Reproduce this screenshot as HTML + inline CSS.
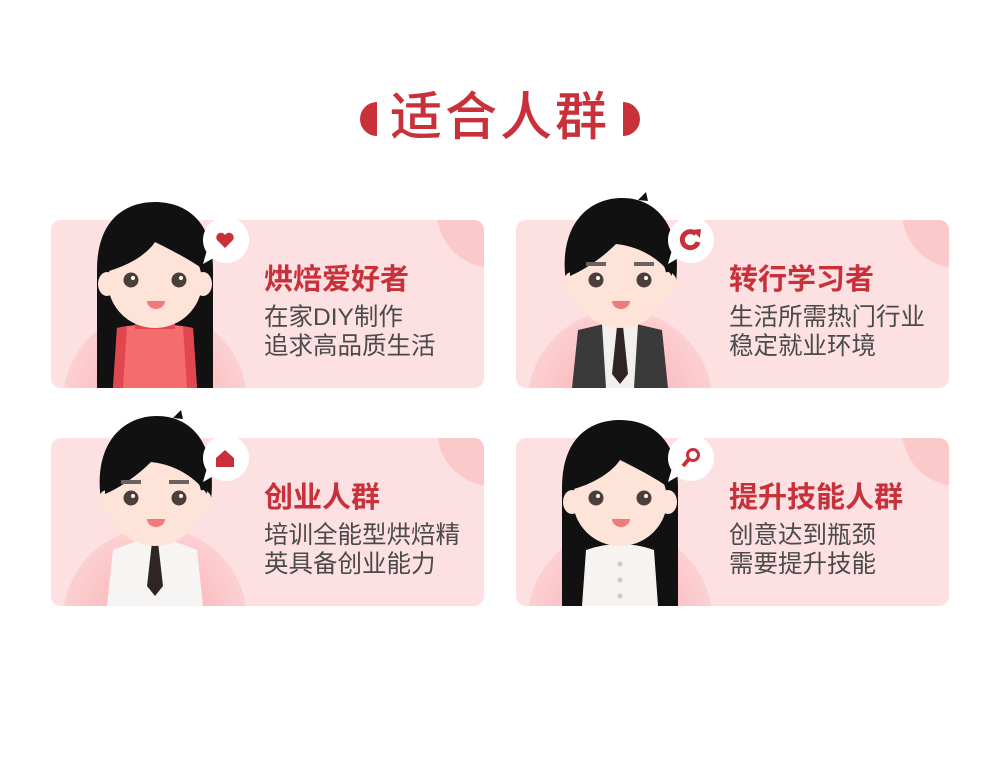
<!DOCTYPE html>
<html><head><meta charset="utf-8">
<style>
body{margin:0;width:1000px;height:782px;background:#fff;font-family:"Liberation Sans","Noto Sans CJK SC",sans-serif;position:relative;overflow:hidden}
.title{position:absolute;left:0;width:1000px;top:86px;text-align:center;font-size:52px;color:#c8303a;font-weight:500;letter-spacing:3px;line-height:64px}
.cap{position:absolute;top:102px;width:18px;height:34px;background:#c8303a}
.capl{left:360px;border-radius:18px 0 0 18px;width:17px}
.capr{left:623px;border-radius:0 18px 18px 0;width:17px}
.card{position:absolute;width:433px;height:168px;border-radius:10px;background:#fde0e2;overflow:hidden}
.card svg.bg{position:absolute;left:0;top:0}
.h{position:absolute;font-size:29px;font-weight:bold;color:#c8303a;white-space:nowrap}
.d{position:absolute;font-size:24.5px;color:#4a4a4a;line-height:29px;white-space:nowrap}
</style></head><body>
<div class="cap capl"></div>
<div class="title">适合人群</div>
<div class="cap capr"></div>

<div id="cards"></div>
<script>
const cardsData=[
 {x:51,y:220,name:'baking-lover-card',t:'烘焙爱好者',l1:'在家DIY制作',l2:'追求高品质生活',g:'f',icon:'heart'},
 {x:516,y:220,name:'career-changer-card',t:'转行学习者',l1:'生活所需热门行业',l2:'稳定就业环境',g:'m',icon:'refresh'},
 {x:51,y:438,name:'entrepreneur-card',t:'创业人群',l1:'培训全能型烘焙精',l2:'英具备创业能力',g:'m2',icon:'home'},
 {x:516,y:438,name:'skill-upgrade-card',t:'提升技能人群',l1:'创意达到瓶颈',l2:'需要提升技能',g:'f2',icon:'search'}
];
function icon(k){
 if(k==='heart')return '<path d="M174 28 l-8 -8 a4.5 4.5 0 0 1 8 -5 a4.5 4.5 0 0 1 8 5 z" fill="#c8303a"/>';
 if(k==='refresh')return '<path d="M180 14 a8 8 0 1 0 2 8" fill="none" stroke="#c8303a" stroke-width="5"/><path d="M176 10 l9 -1 l-1 9 z" fill="#c8303a"/>';
 if(k==='home')return '<path d="M165 20 l9 -8 l9 8 v9 h-18 z" fill="#c8303a"/>';
 return '<circle cx="177" cy="17" r="5.5" fill="none" stroke="#c8303a" stroke-width="3"/><path d="M173 21 l-6 7" stroke="#c8303a" stroke-width="4"/>';
}
function figure(g){
 let s='';
 const female=g[0]==='f';
 if(female){
  s+='<path d="M46 168 V50 C46 -4 78 -18 104 -18 C130 -18 162 -4 162 50 V168 Z" fill="#111"/>';
 } else {
  s+='<path d="M50 62 C42 8 70 -22 106 -22 C142 -22 166 8 160 62 Z" fill="#111"/><path d="M122 -20 l8 -8 l2 9 z" fill="#111"/>';
 }
 if(g==='f'){
  s+='<path d="M62 168 L66 108 Q104 100 142 108 L146 168 Z" fill="#f56c6c"/><path d="M62 168 L66 108 L76 106 L72 168Z M146 168 L142 108 L132 106 L136 168Z" fill="#e0474f"/><rect x="84" y="100" width="40" height="9" fill="#e0474f"/>';
 } else if(g==='f2'){
  s+='<path d="M66 168 L70 112 Q104 100 138 112 L142 168 Z" fill="#f7f3f0"/><circle cx="104" cy="126" r="2.5" fill="#ccc"/><circle cx="104" cy="142" r="2.5" fill="#ccc"/><circle cx="104" cy="158" r="2.5" fill="#ccc"/>';
 } else if(g==='m'){
  s+='<path d="M56 168 L62 110 L88 104 L120 104 L146 110 L152 168 Z" fill="#3a3a3a"/><path d="M86 104 L122 104 L118 168 L90 168 Z" fill="#f2efec"/><path d="M101 106 h6 l5 48 l-8 10 l-8 -10 z" fill="#2f2623"/>';
 } else {
  s+='<path d="M56 168 L62 112 L88 102 L120 102 L146 112 L152 168 Z" fill="#f7f5f3"/><path d="M101 104 h6 l5 44 l-8 10 l-8 -10 z" fill="#2f2623"/>';
 }
 s+='<ellipse cx="56" cy="64" rx="9" ry="12" fill="#fde3d8"/><ellipse cx="152" cy="64" rx="9" ry="12" fill="#fde3d8"/>';
 s+='<ellipse cx="104" cy="62" rx="47" ry="46" fill="#fde3d8"/>';
 if(female) s+='<path d="M54 52 C60 20 80 10 104 10 C128 10 150 22 156 52 C140 40 120 30 104 22 C96 34 78 46 54 52 Z" fill="#111"/>';
 else s+='<path d="M54 56 C54 14 80 4 106 4 C132 4 156 14 156 56 C142 36 120 26 100 24 C88 36 72 48 54 56Z" fill="#111"/><rect x="70" y="42" width="20" height="4" fill="#6a6260"/><rect x="118" y="42" width="20" height="4" fill="#6a6260"/>';
 s+='<circle cx="80" cy="60" r="7.5" fill="#4a3f3a"/><circle cx="128" cy="60" r="7.5" fill="#4a3f3a"/><circle cx="82" cy="58" r="2" fill="#fff"/><circle cx="130" cy="58" r="2" fill="#fff"/>';
 s+='<path d="M96 81 h18 a9 8 0 0 1 -18 0z" fill="#f27a7a"/>';
 return s;
}
const host=document.getElementById('cards');
cardsData.forEach(c=>{
 const d=document.createElement('div');
 d.className='card';d.style.left=c.x+'px';d.style.top=c.y+'px';
 
 
 d.innerHTML='<svg class="bg" width="433" height="168"><defs><radialGradient id="rg'+c.x+c.y+'" cx="0.5" cy="0.5" r="0.5"><stop offset="0.55" stop-color="#fbbfc2"/><stop offset="1" stop-color="#fcd0d2"/></radialGradient></defs><circle cx="104" cy="182" r="92" fill="url(#rg'+c.x+c.y+')"/><circle cx="442" cy="-8" r="56" fill="#fcc9cb"/></svg>';
 host.appendChild(d);
 const f=document.createElementNS('http://www.w3.org/2000/svg','svg');
 f.setAttribute('width','433');f.setAttribute('height','168');
 f.style.position='absolute';f.style.left=c.x+'px';f.style.top=c.y+'px';f.style.overflow='visible';
 
 
 f.innerHTML=figure(c.g)+'<circle cx="175" cy="20" r="23" fill="#fff"/><path d="M156 30 l-4 14 l14 -8z" fill="#fff"/>'+icon(c.icon);
 host.appendChild(f);
 const h=document.createElement('div');h.className='h';h.textContent=c.t;
 h.style.left=(c.x+213)+'px';h.style.top=(c.y+36)+'px';
 
 
 host.appendChild(h);
 const t=document.createElement('div');t.className='d';t.innerHTML=c.l1+'<br>'+c.l2;
 t.style.left=(c.x+213)+'px';t.style.top=(c.y+83)+'px';
 
 
 host.appendChild(t);
});
</script>
</body></html>
